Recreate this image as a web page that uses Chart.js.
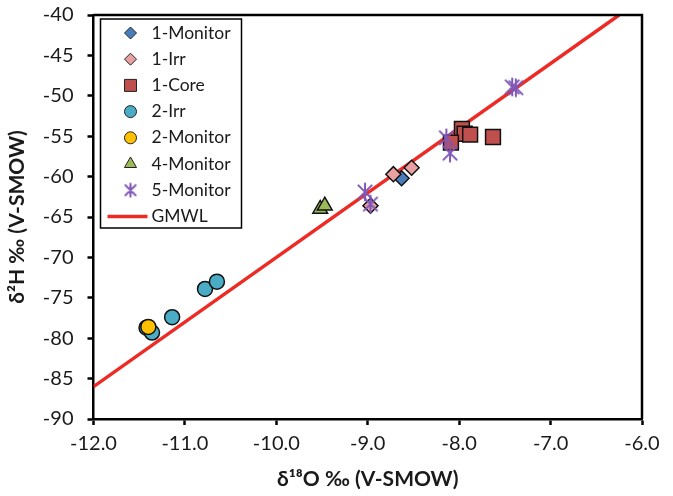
<!DOCTYPE html>
<html>
<head>
<meta charset="utf-8">
<script src="https://cdn.jsdelivr.net/npm/chart.js@4.4.0/dist/chart.umd.min.js"></script>
<style>
  html, body { margin: 0; padding: 0; background: #fff; }
  #wrap { width: 673px; height: 496px; }
</style>
</head>
<body>
<div id="wrap"><canvas id="isoChart" width="673" height="496"></canvas></div>
<script>
// values
const monitor1X = [-8.63];
const monitor1Y = [-60.2];
const irr1X = [-8.72, -8.52, -8.97];
const irr1Y = [-59.7, -58.9, -63.6];
const core1X = [-7.97, -7.94, -7.88, -7.63, -8.09];
const core1Y = [-54.1, -54.7, -54.8, -55.1, -55.8];
const irr2X = [-11.42, -11.36, -11.14, -10.78, -10.65];
const irr2Y = [-78.7, -79.3, -77.4, -73.9, -73.0];
const monitor2X = [-11.40];
const monitor2Y = [-78.6];
const monitor4X = [-9.52, -9.47];
const monitor4Y = [-64.0, -63.6];
const monitor5X = [-7.42, -7.38, -8.14, -8.10, -9.03, -8.97];
const monitor5Y = [-48.9, -49.0, -55.2, -57.1, -61.9, -63.4];
const gmwlX = [-12, -6.25];
const gmwlY = [-86, -40];

const seriesNames = ['1-Monitor', '1-Irr', '1-Core', '2-Irr', '2-Monitor', '4-Monitor', '5-Monitor', 'GMWL'];

const FONT = 'Lato, "Open Sans", sans-serif';
const TEXT = '#1a1a1a';

function toPoints(xs, ys) {
    return xs.map((x, i) => ({ x: x, y: ys[i] }));
}

// Excel style "star" marker: X with a vertical bar
function starImage(size, color) {
    const c = document.createElement('canvas');
    c.width = size; c.height = size;
    const g = c.getContext('2d');
    const m = size / 2, r = size / 2 - 1.5, d = r * 0.78;
    g.strokeStyle = color;
    g.lineWidth = 2;
    g.lineCap = 'round';
    g.beginPath();
    g.moveTo(m, m - r); g.lineTo(m, m + r);
    g.moveTo(m - d, m - d); g.lineTo(m + d, m + d);
    g.moveTo(m + d, m - d); g.lineTo(m - d, m + d);
    g.stroke();
    return c;
}

const starBig = starImage(20, '#7e57b8');
const starSmall = starImage(16, '#7e57b8');

const markerSets = [
    { xs: monitor1X, ys: monitor1Y, style: 'rectRot', fill: '#4a7ebb', r: 7.5, lr: 6 },
    { xs: irr1X, ys: irr1Y, style: 'rectRot', fill: '#e8a0a2', r: 7.5, lr: 6 },
    { xs: core1X, ys: core1Y, style: 'rect', fill: '#c0504d', r: 10.5, lr: 8.5 },
    { xs: irr2X, ys: irr2Y, style: 'circle', fill: '#4bacc6', r: 7.5, lr: 6 },
    { xs: monitor2X, ys: monitor2Y, style: 'circle', fill: '#ffc000', r: 7.5, lr: 6 },
    { xs: monitor4X, ys: monitor4Y, style: 'triangle', fill: '#9bbb59', r: 8.5, lr: 7 },
    { xs: monitor5X, ys: monitor5Y, style: starBig, fill: '#7e57b8', r: 10, lr: 8 }
];

const datasets = markerSets.map((m, i) => ({
    type: 'scatter',
    label: seriesNames[i],
    data: toPoints(m.xs, m.ys),
    pointStyle: m.style,
    pointRadius: m.r,
    pointBackgroundColor: m.fill,
    pointBorderColor: '#111',
    pointBorderWidth: 1.5,
    order: 20 - i
}));

datasets.push({
    type: 'line',
    label: seriesNames[7],
    data: toPoints(gmwlX, gmwlY),
    borderColor: '#ee2a24',
    borderWidth: 3.5,
    pointRadius: 0,
    fill: false,
    order: 100
});

const frameAndLegend = {
    id: 'frameAndLegend',
    afterDraw(chart) {
        const ctx = chart.ctx;
        const a = chart.chartArea;
        ctx.save();
        // top and right frame lines
        ctx.strokeStyle = '#000';
        ctx.lineWidth = 2.5;
        ctx.beginPath();
        ctx.moveTo(a.left, a.top);
        ctx.lineTo(a.right, a.top);
        ctx.lineTo(a.right, a.bottom);
        ctx.stroke();

        // legend box
        const lx = a.left + 7, ly = a.top + 4, lw = 141, lh = 209;
        ctx.fillStyle = '#fff';
        ctx.fillRect(lx, ly, lw, lh);
        ctx.lineWidth = 1.5;
        ctx.strokeRect(lx, ly, lw, lh);

        ctx.font = '17.5px ' + FONT;
        ctx.textBaseline = 'middle';
        ctx.textAlign = 'left';
        const rowH = 26.2;
        const markX = lx + 30, textX = lx + 51;
        seriesNames.forEach((name, i) => {
            const cy = ly + 14 + i * rowH;
            if (i < markerSets.length) {
                const m = markerSets[i];
                ctx.fillStyle = m.fill;
                ctx.strokeStyle = '#222';
                ctx.lineWidth = 1;
                const style = m.style === starBig ? starSmall : m.style;
                Chart.helpers.drawPoint(ctx, { pointStyle: style, radius: m.lr, borderWidth: 1, rotation: 0 }, markX, cy);
            } else {
                ctx.strokeStyle = '#ee2a24';
                ctx.lineWidth = 3.5;
                ctx.beginPath();
                ctx.moveTo(lx + 7, cy);
                ctx.lineTo(lx + 47, cy);
                ctx.stroke();
            }
            ctx.fillStyle = TEXT;
            ctx.fillText(name, textX, cy);
        });
        ctx.restore();
    }
};

const ctx = document.getElementById('isoChart').getContext('2d');
new Chart(ctx, {
    data: { datasets: datasets },
    options: {
        responsive: false,
        animation: false,
        layout: { padding: { top: 15, right: 31, left: 0, bottom: 0 } },
        plugins: {
            legend: { display: false },
            tooltip: { enabled: false }
        },
        scales: {
            x: {
                type: 'linear',
                min: -12,
                max: -6,
                afterFit: function(s) { s.height = 77; s.paddingLeft = 0; s.paddingRight = 0; },
                ticks: {
                    stepSize: 1,
                    color: TEXT,
                    padding: 7,
                    font: { family: FONT, size: 20 },
                    callback: function(v) { return v.toFixed(1); }
                },
                grid: { drawOnChartArea: false, drawTicks: true, tickLength: 6, tickColor: '#000', tickWidth: 2.5 },
                border: { color: '#000', width: 2.5 },
                title: {
                    display: true,
                    text: 'δ¹⁸O ‰ (V-SMOW)',
                    color: TEXT,
                    font: { family: FONT, size: 21, weight: 'bold' },
                    padding: { top: 4 }
                }
            },
            y: {
                type: 'linear',
                min: -90,
                max: -40,
                afterFit: function(s) { s.width = 93.5; s.paddingTop = 0; s.paddingBottom = 0; },
                ticks: {
                    stepSize: 5,
                    color: TEXT,
                    padding: 14,
                    font: { family: FONT, size: 20 }
                },
                grid: { drawOnChartArea: false, drawTicks: true, tickLength: 6, tickColor: '#000', tickWidth: 2.5 },
                border: { color: '#000', width: 2.5 },
                title: {
                    display: true,
                    text: 'δ²H ‰ (V-SMOW)',
                    color: TEXT,
                    font: { family: FONT, size: 21, weight: 'bold' },
                    padding: { top: 5, bottom: 0 }
                }
            }
        }
    },
    plugins: [frameAndLegend]
});
</script>
</body>
</html>
